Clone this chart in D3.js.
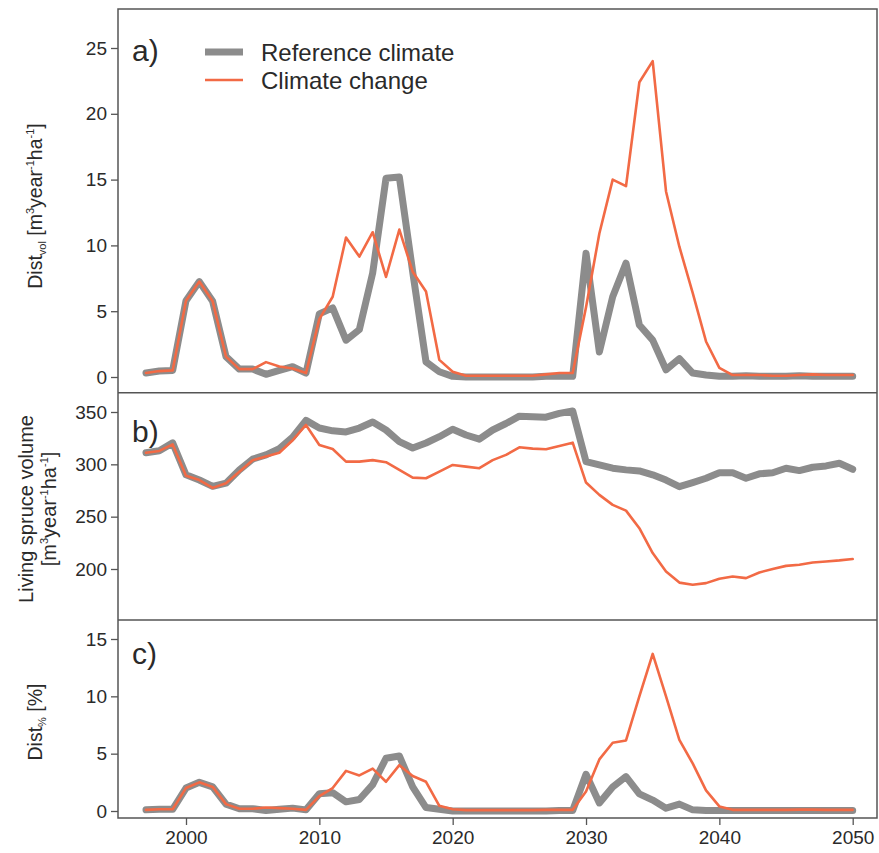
<!DOCTYPE html>
<html><head><meta charset="utf-8">
<script src="https://cdn.jsdelivr.net/npm/d3@7"></script>
<style>
html,body{margin:0;padding:0;background:#fff;}
svg text{font-family:"Liberation Sans",Arial,sans-serif;fill:#2a2a2a;}
</style></head>
<body><svg id="chart" width="879" height="853"></svg>
<script>
const years = d3.range(1997, 2051);
const seriesNames = ["Reference climate", "Climate change"];
const xTicks = [2000, 2010, 2020, 2030, 2040, 2050];
const ticksA = [0, 5, 10, 15, 20, 25];
const ticksB = [200, 250, 300, 350];
const ticksC = [0, 5, 10, 15];

// Panel a: disturbed volume [m3 year-1 ha-1]
const volRef = [0.3,0.45,0.5,5.8,7.25,5.75,1.55,0.6,0.6,0.2,0.5,0.78,0.3,4.8,5.25,2.8,3.6,7.9,15.1,15.2,8.0,1.15,0.4,0.05,
  0.0,0.0,0.0,0.0,0.0,0.0,0.05,0.05,0.05,9.4,1.9,6.1,8.65,3.95,2.8,0.55,1.4,0.3,0.15,0.05,
  0.05,0.1,0.05,0.05,0.05,0.1,0.05,0.05,0.05,0.05];
const volCC = [0.3,0.45,0.5,5.8,7.25,5.75,1.55,0.6,0.6,1.13,0.8,0.65,0.3,4.4,6.1,10.6,9.15,11.0,7.6,11.2,8.0,6.5,1.3,0.4,
  0.1,0.1,0.1,0.1,0.1,0.1,0.2,0.3,0.3,5.3,10.9,15.0,14.5,22.4,24.0,14.1,9.9,6.4,2.7,0.7,
  0.15,0.15,0.15,0.1,0.1,0.15,0.2,0.15,0.15,0.15];
// Panel b: living spruce volume [m3 ha-1]
const livRef = [311,313,320.5,290,285,279,282,294.6,305,309,315,326,342,334.7,332,331,334.7,340.5,332.8,321.7,315.6,320.4,326.4,333.5,
  328,324,332.8,339,346,345.5,345,348.7,351,302.6,299.4,296.3,294.7,293.7,290,285,278.7,282.6,286.7,292,
  292,286.7,290.9,292,296.3,294,297.2,298.5,301,295.3];
const livCC = [311,312.8,319,289,285,277.5,282,293,304,307.4,311,323,337.6,318.5,314.7,302.6,302.6,304,302,294.7,287.3,286.7,293,299.4,
  297.8,296.3,304,309,316.3,315,314.4,317.6,320.7,282.6,270.8,261.3,255.8,239,215.2,197.7,187,185,186.5,190.7,
  192.9,191.3,196.7,200,203,204,206.2,207.2,208.2,209.5];
// Panel c: disturbed share [%]
const pctRef = [0.1,0.15,0.15,2.0,2.5,2.1,0.6,0.2,0.2,0.05,0.15,0.25,0.1,1.5,1.6,0.8,1.0,2.3,4.6,4.8,2.1,0.3,0.15,0.0,
  0.0,0.0,0.0,0.0,0.0,0.0,0.0,0.05,0.05,3.2,0.7,2.1,3.0,1.5,0.95,0.25,0.6,0.1,0.05,0.05,
  0.05,0.05,0.05,0.05,0.05,0.05,0.05,0.05,0.05,0.05];
const pctCC = [0.1,0.15,0.15,2.0,2.5,2.1,0.6,0.2,0.2,0.3,0.25,0.2,0.1,1.3,2.0,3.5,3.1,3.7,2.55,4.0,3.05,2.55,0.45,0.15,
  0.08,0.08,0.08,0.08,0.08,0.08,0.1,0.1,0.1,1.7,4.5,5.95,6.15,10.0,13.7,10.0,6.2,4.15,1.8,0.4,
  0.1,0.1,0.1,0.1,0.1,0.12,0.12,0.1,0.1,0.1];

const svg = d3.select("#chart");
const L = 118, R = 877;
const colRef = "#8c8c8c", colCC = "#f26a45";

const x = d3.scaleLinear().domain([2000, 2050]).range([186, 852.7]);

const panels = [
  {top: 9, bot: 392.7, y: d3.scaleLinear().domain([0, 25]).range([377, 48]), ticks: ticksA, ref: volRef, cc: volCC, tag: "a)", tagY: 61},
  {top: 392.7, bot: 620, y: d3.scaleLinear().domain([200, 350]).range([569, 412]), ticks: ticksB, ref: livRef, cc: livCC, tag: "b)", tagY: 442},
  {top: 620, bot: 818, y: d3.scaleLinear().domain([0, 15]).range([811, 639]), ticks: ticksC, ref: pctRef, cc: pctCC, tag: "c)", tagY: 664}
];

panels.forEach((p, i) => {
  const g = svg.append("g");
  const ax = g.append("g").attr("transform", `translate(${L},0)`)
    .call(d3.axisLeft(p.y).tickValues(p.ticks).tickSize(7).tickPadding(4).tickFormat(d3.format("d")));
  ax.select(".domain").remove();
  ax.selectAll("line").attr("stroke", "#555").attr("stroke-width", 1.3);
  ax.selectAll("text").style("font-size", "19px").attr("fill", "#2a2a2a");

  const line = d3.line().x((d, k) => x(years[k])).y(d => p.y(d));
  g.append("path").datum(p.ref).attr("d", line).attr("fill", "none")
    .attr("stroke", colRef).attr("stroke-width", 7).attr("stroke-linejoin", "round").attr("stroke-linecap", "round");
  g.append("path").datum(p.cc).attr("d", line).attr("fill", "none")
    .attr("stroke", colCC).attr("stroke-width", 2.6).attr("stroke-linejoin", "round").attr("stroke-linecap", "round");

  g.append("text").attr("x", 132).attr("y", p.tagY).text(p.tag).style("font-size", "30px");
});

// frame
svg.append("rect").attr("x", L).attr("y", 9).attr("width", R - L).attr("height", 818 - 9)
  .attr("fill", "none").attr("stroke", "#555").attr("stroke-width", 1.5);
[392.7, 620].forEach(yy => svg.append("line").attr("x1", L).attr("x2", R).attr("y1", yy).attr("y2", yy)
  .attr("stroke", "#555").attr("stroke-width", 1.5));

// x axis
const xa = svg.append("g").attr("transform", "translate(0,818)")
  .call(d3.axisBottom(x).tickValues(xTicks).tickSize(7).tickPadding(6).tickFormat(d3.format("d")));
xa.select(".domain").remove();
xa.selectAll("line").attr("stroke", "#555").attr("stroke-width", 1.3);
xa.selectAll("text").style("font-size", "19px").attr("fill", "#2a2a2a");

// legend
const leg = svg.append("g");
[[colRef, 7, 52], [colCC, 2.6, 80]].forEach((s, i) => {
  leg.append("line").attr("x1", 205).attr("x2", 243).attr("y1", s[2]).attr("y2", s[2])
    .attr("stroke", s[0]).attr("stroke-width", s[1]);
  leg.append("text").attr("x", 261).attr("y", s[2] + 9).text(seriesNames[i]).style("font-size", "24px");
});

// y titles
const sup = (t, txt, first) => {
  t.append("tspan").text(txt).style("font-size", "11px").attr("dy", first ? -8 : -8);
};
const t1 = svg.append("text").attr("transform", "translate(42,206) rotate(-90)").attr("text-anchor", "middle").style("font-size", "19.5px");
t1.append("tspan").text("Dist");
t1.append("tspan").text("vol").style("font-size", "11px").attr("dy", 4);
t1.append("tspan").text(" [m").attr("dy", -4);
sup(t1, "3");
t1.append("tspan").text("year").attr("dy", 8);
sup(t1, "-1");
t1.append("tspan").text("ha").attr("dy", 8);
sup(t1, "-1");
t1.append("tspan").text("]").attr("dy", 8);

svg.append("text").attr("transform", "translate(33,509) rotate(-90)").attr("text-anchor", "middle").style("font-size", "20px").text("Living spruce volume");
const t2 = svg.append("text").attr("transform", "translate(56,509) rotate(-90)").attr("text-anchor", "middle").style("font-size", "20px");
t2.append("tspan").text("[m");
sup(t2, "3");
t2.append("tspan").text("year").attr("dy", 8);
sup(t2, "-1");
t2.append("tspan").text("ha").attr("dy", 8);
sup(t2, "-1");
t2.append("tspan").text("]").attr("dy", 8);

const t3 = svg.append("text").attr("transform", "translate(42,722) rotate(-90)").attr("text-anchor", "middle").style("font-size", "19.5px");
t3.append("tspan").text("Dist");
t3.append("tspan").text("%").style("font-size", "11px").attr("dy", 4);
t3.append("tspan").text(" [%]").attr("dy", -4);
</script></body></html>
